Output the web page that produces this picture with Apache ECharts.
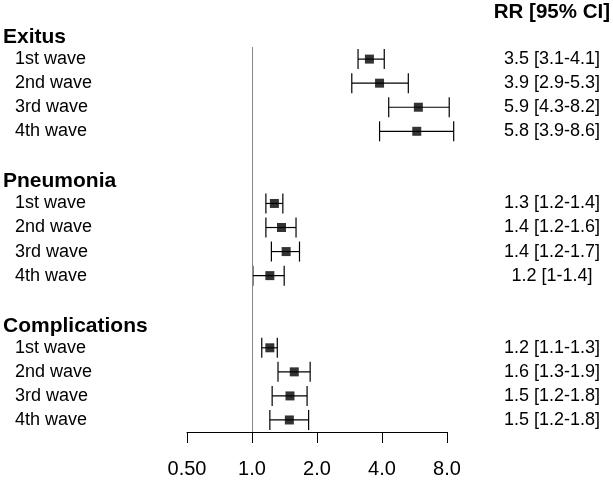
<!DOCTYPE html>
<html>
<head>
<meta charset="utf-8">
<script src="https://cdn.jsdelivr.net/npm/echarts@6/dist/echarts.min.js"></script>
<style>
html,body{margin:0;padding:0;background:#fff;}
#chart{width:613px;height:482px;}
</style>
</head>
<body>
<div id="chart"></div>
<script>
// ---- data ----
const groups = ['Exitus', 'Pneumonia', 'Complications'];
const waves = ['1st wave', '2nd wave', '3rd wave', '4th wave'];
const rrValues = [3.5, 3.9, 5.9, 5.8, 1.27, 1.37, 1.44, 1.21, 1.21, 1.57, 1.50, 1.49];
const ciLow = [3.1, 2.9, 4.3, 3.9, 1.16, 1.16, 1.23, 1.01, 1.11, 1.32, 1.24, 1.21];
const ciHigh = [4.1, 5.3, 8.2, 8.6, 1.39, 1.60, 1.66, 1.41, 1.31, 1.86, 1.80, 1.83];
const rrLabels = ['3.5 [3.1-4.1]', '3.9 [2.9-5.3]', '5.9 [4.3-8.2]', '5.8 [3.9-8.6]',
  '1.3 [1.2-1.4]', '1.4 [1.2-1.6]', '1.4 [1.2-1.7]', '1.2 [1-1.4]',
  '1.2 [1.1-1.3]', '1.6 [1.3-1.9]', '1.5 [1.2-1.8]', '1.5 [1.2-1.8]'];
const rrHeader = 'RR [95% CI]';
const tickValues = [0.5, 1, 2, 4, 8];
const tickLabels = ['0.50', '1.0', '2.0', '4.0', '8.0'];

// ---- build row structure ----
const leftRows = {};
const rightRows = {};
const errData = [];
const ptData = [];
rightRows[-1] = { text: rrHeader, header: true };
groups.forEach((g, gi) => {
  const base = gi * 6;
  leftRows[base] = { text: g, header: true };
  waves.forEach((w, wi) => {
    const k = gi * 4 + wi;
    const row = base + 1 + wi;
    leftRows[row] = { text: w, header: false };
    rightRows[row] = { text: rrLabels[k], header: false };
    errData.push([ciLow[k], ciHigh[k], row]);
    ptData.push([rrValues[k], row]);
  });
});

const FONT = '"Liberation Sans", Arial, sans-serif';
const chart = echarts.init(document.getElementById('chart'), null, { renderer: 'canvas' });

const yCommon = {
  type: 'value', inverse: true, min: -1, max: 16.5, interval: 1,
  axisLine: { show: false }, axisTick: { show: false }, splitLine: { show: false }
};

chart.setOption({
  backgroundColor: '#fff',
  animation: false,
  grid: { left: 187, right: 166, top: 11, bottom: 50, containLabel: false },
  xAxis: {
    type: 'log', logBase: 2, min: 0.5, max: 8, position: 'bottom',
    axisLine: { show: true, onZero: false, lineStyle: { color: '#000', width: 1 } },
    axisTick: { show: true, inside: false, length: 11, lineStyle: { color: '#000', width: 1 } },
    splitLine: { show: false },
    minorTick: { show: false },
    axisLabel: {
      margin: 27, color: '#000', fontSize: 20, fontFamily: FONT,
      formatter: function (v) {
        let best = 0, bd = Infinity;
        tickValues.forEach((t, i) => { const d = Math.abs(Math.log2(v) - Math.log2(t)); if (d < bd) { bd = d; best = i; } });
        return bd < 0.01 ? tickLabels[best] : '';
      }
    }
  },
  yAxis: [
    Object.assign({}, yCommon, {
      position: 'left',
      axisLabel: {
        show: true, align: 'left', margin: 184, fontFamily: FONT, color: '#000',
        formatter: function (v) {
          const r = leftRows[v];
          if (!r || Math.round(v) !== v) return '';
          return r.header ? '{h|' + r.text + '}' : '{w|' + r.text + '}';
        },
        rich: {
          h: { fontSize: 21, fontWeight: 'bold', fontFamily: FONT, color: '#000', padding: [4, 0, 0, 0] },
          w: { fontSize: 18, fontFamily: FONT, color: '#000', padding: [0, 0, 0, 12] }
        }
      }
    }),
    Object.assign({}, yCommon, {
      position: 'right',
      axisLabel: {
        show: true, align: 'center', margin: 105, fontFamily: FONT, color: '#000',
        formatter: function (v) {
          const r = rightRows[v];
          if (!r || Math.round(v) !== v) return '';
          return r.header ? '{h|' + r.text + '}' : '{w|' + r.text + '}';
        },
        rich: {
          h: { fontSize: 20.5, fontWeight: 'bold', fontFamily: FONT, color: '#000', padding: [3, 0, 0, 0] },
          w: { fontSize: 18, fontFamily: FONT, color: '#000' }
        }
      }
    })
  ],
  series: [
    {
      type: 'custom',
      yAxisIndex: 0,
      silent: true,
      data: errData,
      encode: { x: [0, 1], y: 2 },
      renderItem: function (params, api) {
        const y = api.value(2);
        const p1 = api.coord([api.value(0), y]);
        const p2 = api.coord([api.value(1), y]);
        const capH = 10;
        const st = { stroke: '#000', lineWidth: 1.2 };
        return {
          type: 'group',
          children: [
            { type: 'line', shape: { x1: p1[0], y1: p1[1], x2: p2[0], y2: p2[1] }, style: st },
            { type: 'line', shape: { x1: p1[0], y1: p1[1] - capH, x2: p1[0], y2: p1[1] + capH }, style: st },
            { type: 'line', shape: { x1: p2[0], y1: p2[1] - capH, x2: p2[0], y2: p2[1] + capH }, style: st }
          ]
        };
      },
      z: 3
    },
    {
      type: 'scatter',
      yAxisIndex: 0,
      symbol: 'rect',
      symbolSize: 9,
      itemStyle: { color: '#000' },
      data: ptData,
      silent: true,
      z: 4,
      markLine: {
        silent: true,
        symbol: 'none',
        label: { show: false },
        lineStyle: { color: '#888', width: 1, type: 'solid' },
        data: [[{ coord: [1, 0.5] }, { coord: [1, 16.5] }]]
      }
    }
  ]
});
</script>
</body>
</html>
